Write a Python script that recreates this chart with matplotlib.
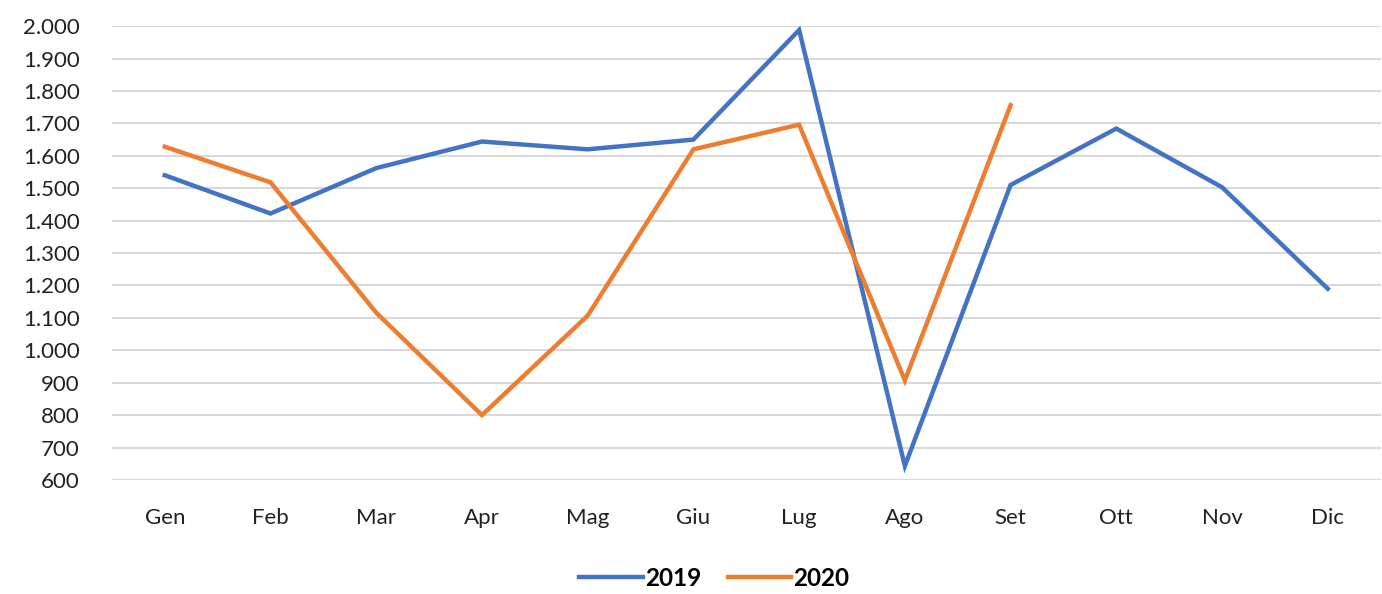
import matplotlib.pyplot as plt
from matplotlib.ticker import FuncFormatter

# Dati --------------------------------------------------------------------
mesi = ['Gen', 'Feb', 'Mar', 'Apr', 'Mag', 'Giu', 'Lug', 'Ago', 'Set', 'Ott', 'Nov', 'Dic']
val_2019 = [1540, 1422, 1562, 1644, 1620, 1650, 1988, 643, 1510, 1684, 1503, 1190]
val_2020 = [1628, 1518, 1116, 800, 1107, 1620, 1696, 907, 1756]
y_ticks = list(range(600, 2001, 100))

plt.rcParams['font.family'] = ['Lato', 'DejaVu Sans']

fig = plt.figure(figsize=(13.82, 5.94), dpi=100)
ax = fig.add_axes([0.081, 0.192, 0.918, 0.764])

ax.plot(range(len(val_2019)), val_2019, color='#4472C4', lw=3.2, label='2019',
        solid_joinstyle='miter')
ax.plot(range(len(val_2020)), val_2020, color='#ED7D31', lw=3.2, label='2020',
        solid_joinstyle='miter')

ax.set_ylim(600, 2000)
ax.set_xlim(-0.5, len(mesi) - 0.5)
ax.set_yticks(y_ticks)
ax.yaxis.set_major_formatter(FuncFormatter(lambda v, p: f'{int(v):,}'.replace(',', '.')))
ax.set_xticks(range(len(mesi)))
ax.set_xticklabels(mesi)

ax.grid(axis='y', color='#D9D9D9', lw=1.5)
ax.set_axisbelow(True)
for s in ax.spines.values():
    s.set_visible(False)
ax.tick_params(axis='y', length=0, pad=23, labelsize=16, labelcolor='#222222')
ax.tick_params(axis='x', length=0, pad=20.5, labelsize=16, labelcolor='#222222')

fig.legend(loc='lower center', bbox_to_anchor=(0.517, -0.03), ncol=2, frameon=False,
           prop={'weight': 'bold', 'size': 17.5}, handlelength=2.6, handletextpad=0.1,
           columnspacing=1.1)

fig.savefig('out.png', dpi=100)
